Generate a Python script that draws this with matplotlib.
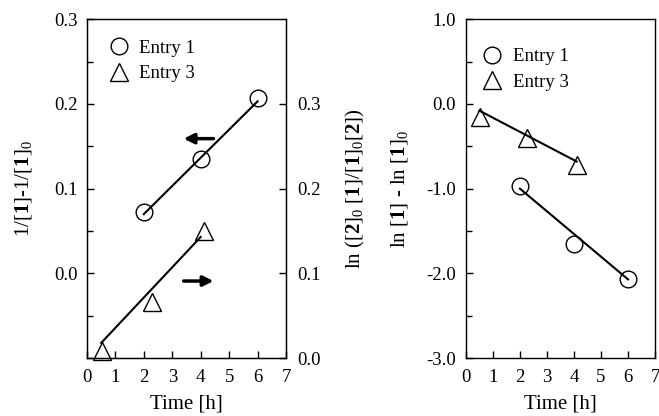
import matplotlib
matplotlib.use('Agg')
import matplotlib.pyplot as plt
from matplotlib.ticker import MultipleLocator, FormatStrFormatter

plt.rcParams['font.family'] = ['Liberation Serif', 'DejaVu Serif']
plt.rcParams['mathtext.fontset'] = 'custom'
plt.rcParams['mathtext.rm'] = 'Liberation Serif'
plt.rcParams['mathtext.bf'] = 'Liberation Serif:bold'
plt.rcParams['mathtext.it'] = 'Liberation Serif:italic'

# left panel: entry 1 on left axis (second order), entry 3 on right axis
e1_time = [2.0, 4.0, 6.0]
e1_second = [0.072, 0.135, 0.207]
e1_second_fit = [0.070, 0.203]
e3_time = [0.52, 2.27, 4.1]
e3_mixed = [0.008, 0.066, 0.150]
e3_fit_time = [0.5, 4.0]
e3_mixed_fit = [0.018, 0.143]

# right panel: first order plots
e1_first = [-0.97, -1.65, -2.07]
e1_first_fit = [-1.00, -2.07]
e3_first = [-0.15, -0.40, -0.72]
e3_first_fit_time = [0.5, 4.1]
e3_first_fit = [-0.08, -0.68]

FS = 13.5
LFS = 15
MS = 12


def style_ax(ax):
    ax.tick_params(direction='in', which='both', top=False, labelsize=FS, width=1.0)
    ax.tick_params(which='major', length=5)
    ax.tick_params(which='minor', length=4)
    ax.tick_params(axis='x', pad=8)
    ax.tick_params(axis='y', pad=7)
    for s in ax.spines.values():
        s.set_linewidth(1.0)
    ax.set_xlim(0, 7)
    ax.xaxis.set_major_locator(MultipleLocator(1))
    ax.set_xlabel('Time [h]', fontsize=LFS, labelpad=6)


fig = plt.figure(figsize=(6.59, 4.16), dpi=100)

# ---- left panel
ax1 = fig.add_axes([0.132, 0.139, 0.302, 0.815])
style_ax(ax1)
ax1.plot(e1_time, e1_second, 'o', mfc='none', mec='black', ms=MS, mew=1.0, label='Entry 1')
ax1.plot([e1_time[0], e1_time[-1]], e1_second_fit, '-', color='black', lw=1.5)
ax1.plot([], [], '^', mfc='none', mec='black', ms=MS + 1, mew=1.0, label='Entry 3')
ax1.set_ylim(-0.1, 0.3)
ax1.set_yticks([0.0, 0.1, 0.2, 0.3])
ax1.yaxis.set_minor_locator(MultipleLocator(0.05))
ax1.set_ylabel(r'1/[$\mathbf{1}$]-1/[$\mathbf{1}$]$_0$', fontsize=LFS, labelpad=14)
ax1.tick_params(axis='y', right=False)
ax1.legend(loc='upper left', frameon=False, fontsize=FS, handletextpad=0.5,
           borderaxespad=0.7, labelspacing=0.45, handlelength=1.2)

ax1.annotate('', xy=(3.4, 0.159), xytext=(4.45, 0.159),
             arrowprops=dict(arrowstyle='-|>,head_length=0.6,head_width=0.3',
                             color='black', lw=2.5, shrinkA=0, shrinkB=0))
ax1.annotate('', xy=(4.45, -0.009), xytext=(3.4, -0.009),
             arrowprops=dict(arrowstyle='-|>,head_length=0.6,head_width=0.3',
                             color='black', lw=2.5, shrinkA=0, shrinkB=0))

ax1r = ax1.twinx()
ax1r.plot(e3_time, e3_mixed, '^', mfc='none', mec='black', ms=MS + 1, mew=1.0, clip_on=False)
ax1r.plot(e3_fit_time, e3_mixed_fit, '-', color='black', lw=1.5)
ax1r.set_ylim(0.0, 0.4)
ax1r.set_yticks([0.0, 0.1, 0.2, 0.3])
ax1r.tick_params(direction='in', which='both', labelsize=FS, length=5, width=1.0, pad=8)
ax1r.set_ylabel(r'ln ([$\mathbf{2}$]$_0$ [$\mathbf{1}$]/[$\mathbf{1}$]$_0$[$\mathbf{2}$])',
                fontsize=LFS, labelpad=17)

# ---- right panel
ax2 = fig.add_axes([0.707, 0.139, 0.287, 0.815])
style_ax(ax2)
ax2.plot(e1_time, e1_first, 'o', mfc='none', mec='black', ms=MS, mew=1.0, label='Entry 1')
ax2.plot([e1_time[0], e1_time[-1]], e1_first_fit, '-', color='black', lw=1.5)
ax2.plot(e3_time, e3_first, '^', mfc='none', mec='black', ms=MS + 1, mew=1.0, label='Entry 3')
ax2.plot(e3_first_fit_time, e3_first_fit, '-', color='black', lw=1.5)
ax2.set_ylim(-3.0, 1.0)
ax2.yaxis.set_major_locator(MultipleLocator(1.0))
ax2.yaxis.set_minor_locator(MultipleLocator(0.5))
ax2.yaxis.set_major_formatter(FormatStrFormatter('%.1f'))
ax2.tick_params(axis='y', right=False)
ax2.set_ylabel(r'ln [$\mathbf{1}$] - ln [$\mathbf{1}$]$_0$', fontsize=LFS, labelpad=12)
ax2.legend(loc='upper left', bbox_to_anchor=(-0.03, 0.975), frameon=False, fontsize=FS,
           handletextpad=0.5, borderaxespad=0.7, labelspacing=0.45, handlelength=1.2)

fig.savefig('out.png', dpi=100)
